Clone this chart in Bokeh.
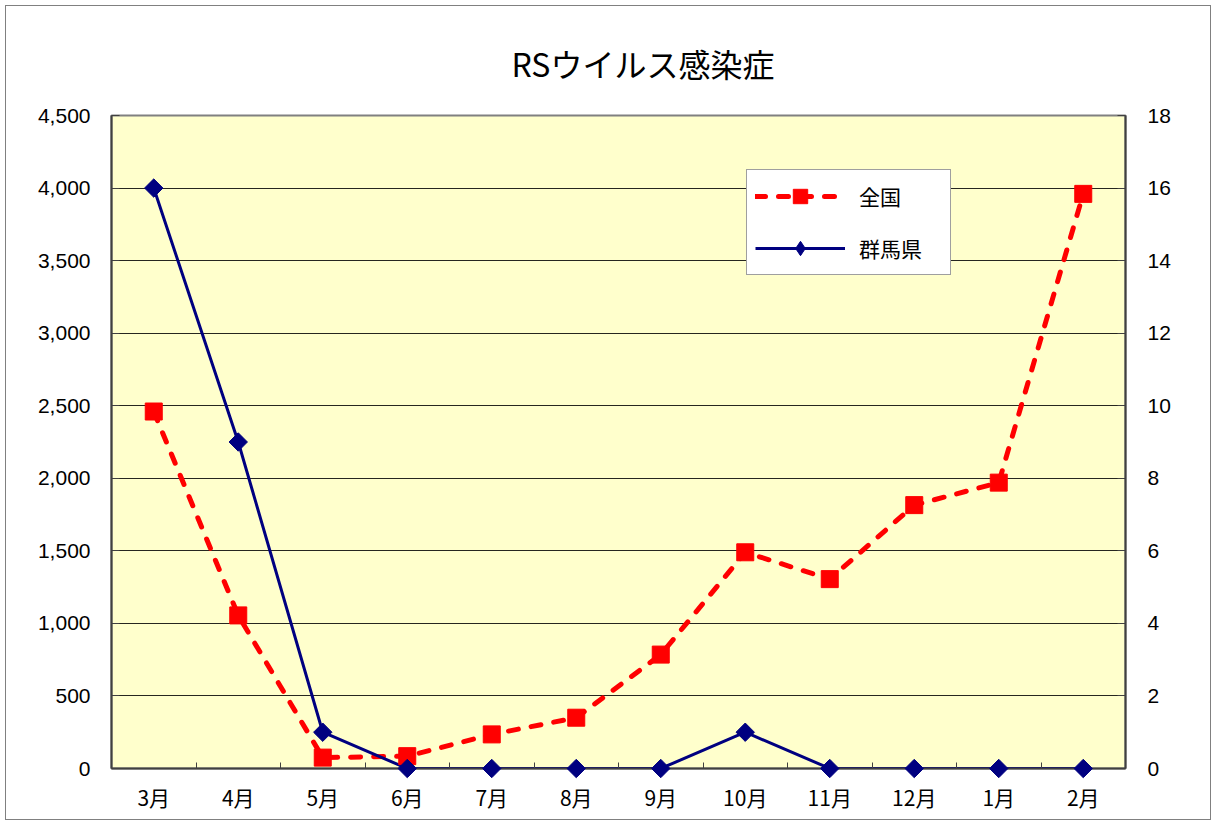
import numpy as np
from bokeh.plotting import figure
from bokeh.models import (Range1d, LinearAxis, FixedTicker, Legend, LegendItem,
                          NumeralTickFormatter, CustomJSTickFormatter, ColumnDataSource)
from bokeh.embed import file_html
from bokeh.resources import INLINE

# ---- data ----
months = ["3月", "4月", "5月", "6月", "7月", "8月", "9月", "10月", "11月", "12月", "1月", "2月"]
national = [2460, 1055, 75, 85, 235, 350, 785, 1490, 1305, 1815, 1970, 3960]
gunma = [16, 9, 1, 0, 0, 0, 0, 1, 0, 0, 0, 0]
left_ticks = [0, 500, 1000, 1500, 2000, 2500, 3000, 3500, 4000, 4500]
right_ticks = [0, 2, 4, 6, 8, 10, 12, 14, 16, 18]
title_text = "RSウイルス感染症"
series_names = ["全国", "群馬県"]

JP = "Noto Sans CJK JP"
NUM = "Liberation Sans"
AX = "#404040"

idx = list(range(len(months)))
src = ColumnDataSource(dict(x=idx, month=months, national=national, gunma=gunma))

W, H = 1216, 825
p = figure(width=W, height=H, output_backend="svg", toolbar_location=None,
           x_range=Range1d(-0.5, len(months) - 0.5),
           y_range=Range1d(left_ticks[0], left_ticks[-1]),
           x_axis_location=None, y_axis_location="left",
           min_border_left=111, min_border_right=91,
           min_border_top=115, min_border_bottom=57)
p.extra_y_ranges = {"r": Range1d(right_ticks[0], right_ticks[-1])}

p.background_fill_color = "#FFFFCC"
p.border_fill_color = "white"
p.border_fill_alpha = 0
p.outline_line_color = "#808080"
p.outline_line_width = 2
p.styles = {"outline": "1px solid #808080", "outline-offset": "-6px"}
p.xgrid.visible = False

# title
p.title.text = title_text
p.title.align = "left"
p.title.offset = 400
p.title.standoff = 60
p.title.text_font = JP
p.title.text_font_size = "32px"
p.title.text_font_style = "normal"
p.title.text_color = "black"

# left axis
ya = p.yaxis[0]
ya.ticker = FixedTicker(ticks=left_ticks)
ya.formatter = NumeralTickFormatter(format="0,0")
ya.major_tick_in = 8
ya.major_tick_out = 0
ya.minor_tick_in = 0
ya.minor_tick_out = 0
ya.axis_line_color = AX
ya.axis_line_width = 2
ya.major_tick_line_color = AX
ya.major_label_standoff = 21
ya.major_label_text_font = NUM
ya.major_label_text_font_size = "21px"
ya.major_label_text_color = "black"

p.ygrid.ticker = FixedTicker(ticks=left_ticks)
p.ygrid.grid_line_color = "black"
p.ygrid.grid_line_width = 1
p.ygrid.grid_line_alpha = 0.85

# right axis
ra = LinearAxis(y_range_name="r", ticker=FixedTicker(ticks=right_ticks),
                major_tick_in=8, major_tick_out=0, minor_tick_in=0, minor_tick_out=0,
                axis_line_color=AX, axis_line_width=2, major_tick_line_color=AX,
                major_label_standoff=22, major_label_text_font=NUM,
                major_label_text_font_size="21px", major_label_text_color="black")
p.add_layout(ra, "right")

# bottom: boundary ticks axis + month label axis
bx = LinearAxis(ticker=FixedTicker(ticks=[i + 0.5 for i in idx[:-1]]),
                formatter=CustomJSTickFormatter(code="return ''"),
                major_tick_in=6, major_tick_out=0, minor_tick_in=0, minor_tick_out=0,
                axis_line_color=AX, axis_line_width=2, major_tick_line_color=AX,
                major_label_standoff=0, major_label_text_font_size="1px")
p.add_layout(bx, "below")
cx = LinearAxis(ticker=FixedTicker(ticks=idx),
                major_label_overrides={i: m for i, m in zip(idx, months)},
                major_tick_line_color=None, axis_line_color=None,
                major_tick_in=0, major_tick_out=0, minor_tick_in=0, minor_tick_out=0,
                major_label_standoff=13, major_label_text_font=JP,
                major_label_text_font_size="21px", major_label_text_color="black")
p.add_layout(cx, "below")

# series
nl = p.line(x="x", y="national", source=src, line_color="#FF0000", line_width=5,
            line_dash="10 13", line_cap="round")
ns = p.scatter(x="x", y="national", source=src, marker="square", size=17,
               fill_color="#FF0000", line_color="#FF0000", level="overlay")
gl = p.line(x="x", y="gunma", source=src, y_range_name="r", line_color="#000080",
            line_width=3)
gs = p.scatter(x="x", y="gunma", source=src, y_range_name="r", marker="square",
               angle=np.pi / 4, size=13, fill_color="#000080", line_color="#000080",
               level="overlay")
# diamond key for the legend (same points, sits inside the rotated squares)
gkey = p.scatter(x="x", y="gunma", source=src, y_range_name="r", marker="diamond",
                 size=11, fill_color="#000080", line_color="#000080", level="overlay")

legend = Legend(items=[LegendItem(label=series_names[0], renderers=[nl, ns]),
                       LegendItem(label=series_names[1], renderers=[gl, gkey])],
                location=(635, 493), orientation="vertical",
                border_line_color=AX, border_line_width=1.5,
                background_fill_color="white", background_fill_alpha=1,
                padding=8, spacing=16, margin=0,
                glyph_width=90, glyph_height=36, label_height=36, label_width=83,
                label_standoff=14, label_text_font=JP, label_text_font_size="21px",
                label_text_color="black")
p.add_layout(legend)

open("out.html", "w").write(file_html(p, INLINE))
